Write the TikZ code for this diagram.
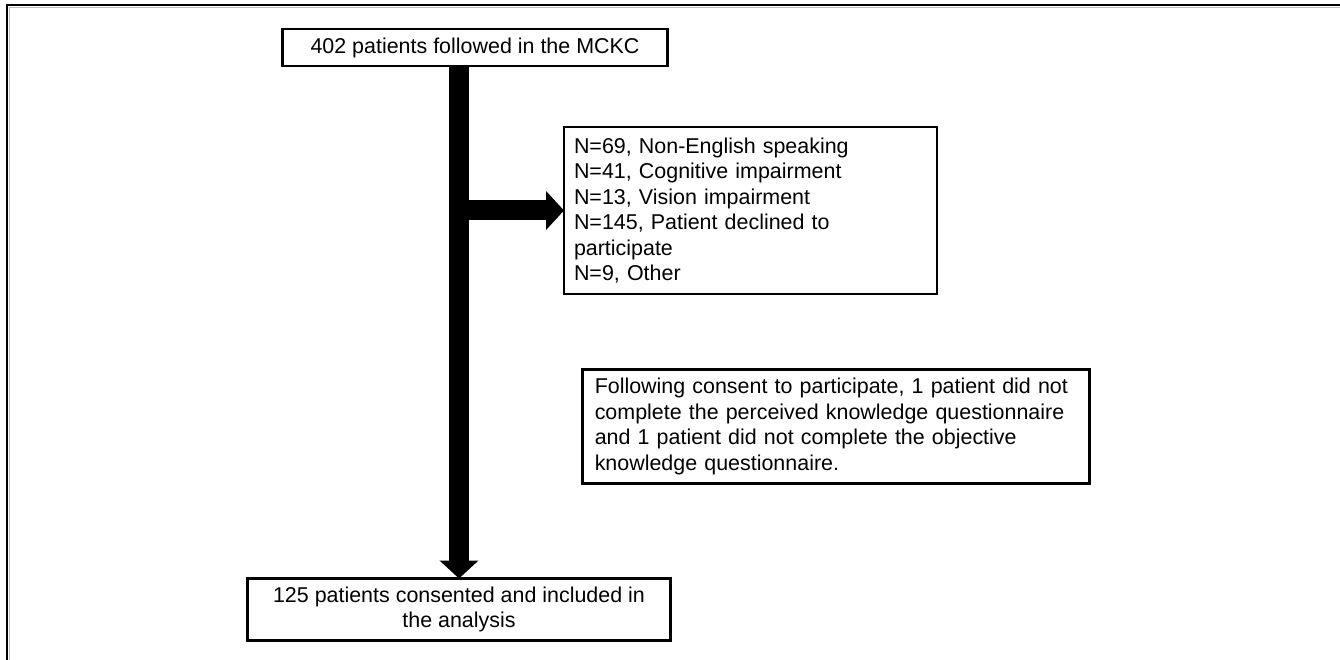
\documentclass[tikz,border=0pt]{standalone}
\usepackage{fontspec}
\setmainfont{Liberation Sans}
\usetikzlibrary{arrows.meta}

\begin{document}
\begin{tikzpicture}[
  box/.style={draw=black,line width=1.6pt,inner sep=0pt,outer sep=0pt,font=\fontsize{12.2pt}{14.5pt}\selectfont},
  bigarrow/.style={line width=0.4cm,-{Triangle[width=0.76cm,length=0.36cm]}}
]
\useasboundingbox (0,0) rectangle (26.8,-13.2);
\draw[line width=1pt,black!25] (26.8,-0.15) -- (0.19,-0.15) -- (0.19,-13.2);
\draw[line width=1.1pt] (26.8,-0.1) -- (0.14,-0.1) -- (0.14,-13.2);

\node[box,minimum width=7.7cm,minimum height=0.74cm] (402) at (9.5,-0.95) {402 patients followed in the MCKC};
\node[box,line width=1.2pt,text width=7.06cm,inner xsep=0.2cm,minimum height=3.34cm,align=left] (excl) at (15.01,-4.21) {N=69, Non-English speaking\\N=41, Cognitive impairment\\N=13, Vision impairment\\N=145, Patient declined to\\participate\\N=9, Other};
\node[box,text width=9.65cm,inner xsep=0.24cm,minimum height=2.28cm,align=left] (note) at (16.72,-8.53) {Following consent to participate, 1 patient did not\\complete the perceived knowledge questionnaire\\and 1 patient did not complete the objective\\knowledge questionnaire.};
\node[box,minimum width=8.46cm,minimum height=1.24cm,align=center] (125) at (9.18,-12.19) {125 patients consented and included in\\the analysis};

\path[bigarrow] (402.south -| 125.north) edge (125.north);
\path[bigarrow] (excl.west -| 125.north) edge (excl.west);
\end{tikzpicture}
\end{document}
